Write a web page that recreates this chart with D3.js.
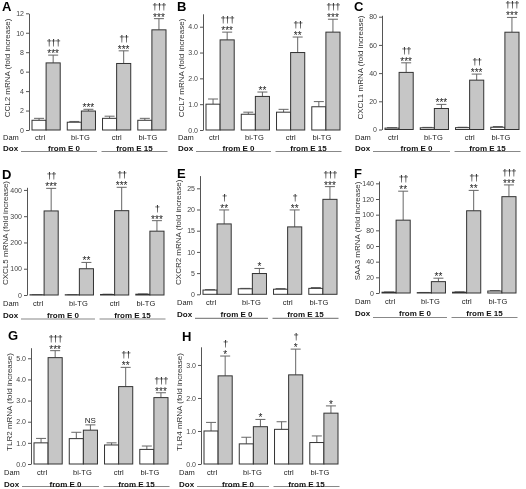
<!DOCTYPE html>
<html><head><meta charset="utf-8">
<script src="https://cdn.jsdelivr.net/npm/d3@7"></script>
<style>body{margin:0;background:#fff}svg{display:block;opacity:0.999;will-change:transform}text{font-family:Arial,"Liberation Sans",Helvetica,sans-serif}</style>
</head><body>
<script>
// ---------- data ----------
const groups = ["E0 ctrl", "E0 bi-TG", "E15 ctrl", "E15 bi-TG"];
const damLabels = ["ctrl", "bi-TG", "ctrl", "bi-TG"];
const doxLabels = ["from E 0", "from E 15"];

const ccl2White = [1.0, 0.8, 1.2, 1.0], ccl2WhiteErr = [0.2, 0.08, 0.22, 0.2];
const ccl2Gray = [6.9, 1.95, 6.84, 10.3], ccl2GrayErr = [0.8, 0.18, 1.3, 1.15];
const ccl2Stars = ["***", "***", "***", "***"], ccl2Dag = ["†††", "", "††", "†††"];
const ccl2Ticks = [0, 2, 4, 6, 8, 10, 12];

const ccl7White = [1.0, 0.61, 0.69, 0.9], ccl7WhiteErr = [0.2, 0.08, 0.11, 0.2];
const ccl7Gray = [3.49, 1.3, 3.0, 3.79], ccl7GrayErr = [0.3, 0.17, 0.6, 0.5];
const ccl7Stars = ["***", "**", "**", "***"], ccl7Dag = ["†††", "", "††", "†††"];
const ccl7Ticks = [0, 1, 2, 3, 4];

const cxcl1White = [1.0, 1.2, 1.3, 1.6], cxcl1WhiteErr = [0.3, 0.3, 0.3, 0.5];
const cxcl1Gray = [40.5, 14.9, 35, 69], cxcl1GrayErr = [6.8, 2.9, 4.3, 10.5];
const cxcl1Stars = ["***", "***", "***", "***"], cxcl1Dag = ["††", "", "††", "†††"];
const cxcl1Ticks = [0, 20, 40, 60, 80];

const cxcl5White = [1, 1, 2, 3], cxcl5WhiteErr = [0.5, 0.5, 1, 1];
const cxcl5Gray = [320, 100, 321, 243], cxcl5GrayErr = [86, 24, 89, 40];
const cxcl5Stars = ["***", "**", "***", "***"], cxcl5Dag = ["††", "", "††", "†"];
const cxcl5Ticks = [0, 100, 200, 300, 400];

const cxcr2White = [1.0, 1.3, 1.2, 1.4], cxcr2WhiteErr = [0.1, 0.1, 0.15, 0.2];
const cxcr2Gray = [16.6, 4.9, 15.9, 22.4], cxcr2GrayErr = [3.3, 1.2, 4.0, 3.0];
const cxcr2Stars = ["**", "*", "**", "***"], cxcr2Dag = ["†", "", "†", "†††"];
const cxcr2Ticks = [0, 5, 10, 15, 20, 25];

const saa3White = [1, 0.5, 1, 2.5], saa3WhiteErr = [0.3, 0.2, 0.5, 0.5];
const saa3Gray = [93, 14.5, 105, 123], saa3GrayErr = [37, 4.4, 26, 15];
const saa3Stars = ["**", "**", "**", "***"], saa3Dag = ["††", "", "††", "†††"];
const saa3Ticks = [0, 20, 40, 60, 80, 100, 120, 140];

const tlr2White = [1.0, 1.2, 0.9, 0.69], tlr2WhiteErr = [0.21, 0.3, 0.1, 0.16];
const tlr2Gray = [5.03, 1.6, 3.66, 3.14], tlr2GrayErr = [0.33, 0.25, 0.91, 0.23];
const tlr2Stars = ["***", "NS", "**", "***"], tlr2Dag = ["†††", "", "††", "†††"];
const tlr2Ticks = [0, 1, 2, 3, 4, 5];

const tlr4White = [1.0, 0.61, 1.05, 0.65], tlr4WhiteErr = [0.26, 0.2, 0.23, 0.2];
const tlr4Gray = [2.67, 1.13, 2.7, 1.54], tlr4GrayErr = [0.6, 0.22, 0.78, 0.22];
const tlr4Stars = ["*", "*", "*", "*"], tlr4Dag = ["†", "", "†", ""];
const tlr4Ticks = [0, 1, 2, 3];

// ---------- layout ----------
const panels = [
  {id:"A", title:"CCL2 mRNA (fold increase)", x0:29, y0:130, yTop:13.3, dmax:12, lx:2, ly:11, left:3, dam:9.5, dox:20.5, line:21.5,
   w:ccl2White, we:ccl2WhiteErr, g:ccl2Gray, ge:ccl2GrayErr, s:ccl2Stars, d:ccl2Dag, t:ccl2Ticks},
  {id:"B", title:"CCL7 mRNA (fold increase)", x0:203, y0:130, yTop:13.8, dmax:4.5, lx:177, ly:11, left:178, dam:9.5, dox:20.5, line:21.5,
   w:ccl7White, we:ccl7WhiteErr, g:ccl7Gray, ge:ccl7GrayErr, s:ccl7Stars, d:ccl7Dag, t:ccl7Ticks},
  {id:"C", title:"CXCL1 mRNA (fold increase)", x0:382, y0:129.5, yTop:15.3, dmax:81, lx:354, ly:11, left:355, dam:10, dox:21, line:22,
   w:cxcl1White, we:cxcl1WhiteErr, g:cxcl1Gray, ge:cxcl1GrayErr, s:cxcl1Stars, d:cxcl1Dag, t:cxcl1Ticks},
  {id:"D", title:"CXCL5 mRNA (fold increase)", x0:27, y0:295, yTop:187.3, dmax:410, lx:2, ly:179, left:3, dam:10.5, dox:22.5, line:24,
   w:cxcl5White, we:cxcl5WhiteErr, g:cxcl5Gray, ge:cxcl5GrayErr, s:cxcl5Stars, d:cxcl5Dag, t:cxcl5Ticks},
  {id:"E", title:"CXCR2 mRNA (fold increase)", x0:200, y0:294.3, yTop:175.6, dmax:28, lx:177, ly:178, left:177, dam:10.5, dox:22.5, line:24,
   w:cxcr2White, we:cxcr2WhiteErr, g:cxcr2Gray, ge:cxcr2GrayErr, s:cxcr2Stars, d:cxcr2Dag, t:cxcr2Ticks},
  {id:"F", title:"SAA3 mRNA (fold increase)", x0:379, y0:293, yTop:181, dmax:143, lx:354, ly:178, left:355, dam:11, dox:23, line:24.5,
   w:saa3White, we:saa3WhiteErr, g:saa3Gray, ge:saa3GrayErr, s:saa3Stars, d:saa3Dag, t:saa3Ticks},
  {id:"G", title:"TLR2 mRNA (fold increase)", x0:31, y0:464, yTop:347.7, dmax:5.5, lx:8, ly:340, left:4, dam:11, dox:22.5, line:22.5,
   w:tlr2White, we:tlr2WhiteErr, g:tlr2Gray, ge:tlr2GrayErr, s:tlr2Stars, d:tlr2Dag, t:tlr2Ticks},
  {id:"H", title:"TLR4 mRNA (fold increase)", x0:201, y0:464, yTop:346.8, dmax:3.55, lx:182, ly:341, left:179, dam:11, dox:22.5, line:22.5,
   w:tlr4White, we:tlr4WhiteErr, g:tlr4Gray, ge:tlr4GrayErr, s:tlr4Stars, d:tlr4Dag, t:tlr4Ticks}
];
const labelShift = [-6, -1, 0, -4];

const svg = d3.select("body").append("svg").attr("width", 526).attr("height", 489);

panels.forEach(p => {
  const gP = svg.append("g");
  const x = d3.scaleBand().domain(groups).range([p.x0 + 3, p.x0 + 137]).paddingInner(0.2);
  const xs = d3.scaleBand().domain(["white", "gray"]).range([0, x.bandwidth()]);
  const y = d3.scaleLinear().domain([0, p.dmax]).range([p.y0, p.yTop]);
  const bw = xs.bandwidth();

  // axis
  const ax = gP.append("g").attr("transform", `translate(${p.x0},0)`)
    .call(d3.axisLeft(y).tickValues(p.t).tickSize(3).tickSizeOuter(0).tickPadding(2));
  ax.select(".domain").attr("stroke", "#555");
  ax.selectAll(".tick line").attr("stroke", "#555");
  ax.selectAll(".tick text").attr("fill", "#444").style("font-size", "7px");

  // y title
  gP.append("text").attr("transform", `translate(${p.x0 - 19},${p.y0 - 62}) rotate(-90)`)
    .attr("text-anchor", "middle").style("font-size", "8px").attr("fill", "#333").text(p.title);

  // panel letter
  gP.append("text").attr("x", p.lx).attr("y", p.ly).style("font-size", "13px").style("font-weight", "bold")
    .attr("fill", "#000").text(p.id);

  const series = [
    {key: "white", vals: p.w, errs: p.we, fill: "#ffffff"},
    {key: "gray", vals: p.g, errs: p.ge, fill: "#c6c6c6"}
  ];
  series.forEach(s => {
    groups.forEach((gname, i) => {
      const bx = x(gname) + xs(s.key);
      const cx = bx + bw / 2;
      const top = y(s.vals[i]);
      const etop = y(s.vals[i] + s.errs[i]);
      gP.append("line").attr("x1", cx).attr("x2", cx).attr("y1", top).attr("y2", etop).attr("stroke", "#666").attr("stroke-width", 1);
      gP.append("line").attr("x1", cx - 5).attr("x2", cx + 5).attr("y1", etop).attr("y2", etop).attr("stroke", "#666").attr("stroke-width", 1);
      gP.append("rect").attr("x", bx).attr("y", top).attr("width", bw).attr("height", p.y0 - top)
        .attr("fill", s.fill).attr("stroke", "#333").attr("stroke-width", 1);
      if (s.key === "gray") {
        const st = p.s[i];
        if (st === "NS") {
          gP.append("text").attr("x", cx).attr("y", etop - 2).attr("text-anchor", "middle")
            .style("font-size", "8px").attr("fill", "#222").text(st);
        } else if (st) {
          gP.append("text").attr("x", cx).attr("y", etop + 2).attr("text-anchor", "middle")
            .style("font-size", "10px").attr("fill", "#222").text(st);
        }
        if (p.d[i]) {
          gP.append("text").attr("x", cx).attr("y", etop - 9).attr("text-anchor", "middle")
            .style("font-size", "9.5px").style("letter-spacing", "-0.8px").attr("fill", "#111").text(p.d[i]);
        }
      }
    });
  });

  // category labels
  gP.append("text").attr("x", p.left).attr("y", p.y0 + p.dam).style("font-size", "7.5px").attr("fill", "#222").text("Dam");
  groups.forEach((gname, i) => {
    gP.append("text").attr("x", x(gname) + x.bandwidth() / 2 + labelShift[i]).attr("y", p.y0 + p.dam)
      .attr("text-anchor", "middle").style("font-size", "7.5px").attr("fill", "#222").text(damLabels[i]);
  });
  gP.append("text").attr("x", p.left).attr("y", p.y0 + p.dox).style("font-size", "8px").style("font-weight", "bold")
    .attr("fill", "#111").text("Dox");
  [0, 1].forEach(k => {
    const xa = k === 0 ? p.left + 18 : x(groups[2]) - 1;
    const xb = x(groups[2 * k + 1]) + x.bandwidth() + 1.5;
    gP.append("line").attr("x1", xa).attr("x2", xb).attr("y1", p.y0 + p.line).attr("y2", p.y0 + p.line)
      .attr("stroke", "#888").attr("stroke-width", 1.2);
    gP.append("text").attr("x", (xa + xb) / 2 + (k === 0 ? 5 : 0)).attr("y", p.y0 + p.dox).attr("text-anchor", "middle")
      .style("font-size", "8px").style("font-weight", "bold").attr("fill", "#111").text(doxLabels[k]);
  });
});
</script>
</body></html>
